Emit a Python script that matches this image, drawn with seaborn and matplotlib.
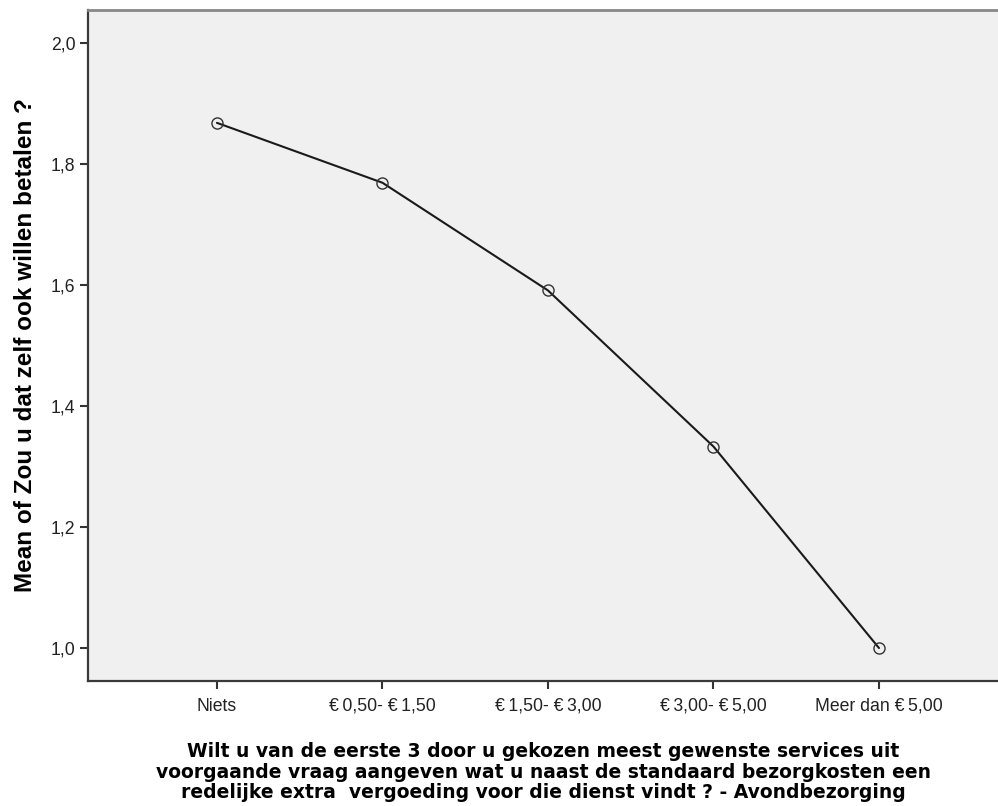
import matplotlib
matplotlib.use("Agg")
import matplotlib.pyplot as plt
import seaborn as sns
import pandas as pd

# Mean willingness to pay per chosen extra fee category
categories = ["Niets", "€\u20090,50- €\u20091,50", "€\u20091,50- €\u20093,00",
              "€\u20093,00- €\u20095,00", "Meer dan €\u20095,00"]
mean_values = [1.868, 1.769, 1.591, 1.333, 1.000]
y_ticks = [1.0, 1.2, 1.4, 1.6, 1.8, 2.0]
y_tick_labels = ["1,0", "1,2", "1,4", "1,6", "1,8", "2,0"]

x_title = ("Wilt u van de eerste 3 door u gekozen meest gewenste services uit\n"
           "voorgaande vraag aangeven wat u naast de standaard bezorgkosten een\n"
           "redelijke extra  vergoeding voor die dienst vindt ? - Avondbezorging")
y_title = "Mean of Zou u dat zelf ook willen betalen ?"

df = pd.DataFrame({"pos": range(len(categories)), "mean": mean_values})

sns.set_style("white")
plt.rcParams["font.family"] = ["Liberation Sans", "DejaVu Sans"]

fig = plt.figure(figsize=(9.98, 8.06), dpi=100)
ax = fig.add_axes([88 / 998, 1 - 681 / 806, 1 - 88 / 998, (681 - 10) / 806])
ax.set_facecolor("#f0f0f0")

sns.lineplot(data=df, x="pos", y="mean", ax=ax, color="#1a1a1a", linewidth=1.5,
             marker="o", markersize=8, markerfacecolor="none",
             markeredgecolor="#333333", markeredgewidth=1.0)

ax.set_xlim(-0.779, 4.719)
ax.set_ylim(0.9455, 2.0545)
ax.set_xticks(range(len(categories)))
ax.set_xticklabels(categories, fontsize=12.7, color="#222222")
ax.set_yticks(y_ticks)
ax.set_yticklabels(y_tick_labels, fontsize=12.7, color="#222222")
ax.tick_params(axis="both", direction="out", length=6, width=1.5, color="#333333",
               pad=3, bottom=True, left=True)
ax.tick_params(axis="x", pad=6)

for side in ["left", "bottom"]:
    ax.spines[side].set_color("#3a3a3a")
    ax.spines[side].set_linewidth(1.6)
ax.spines["top"].set_color("#888888")
ax.spines["top"].set_linewidth(2.0)
ax.spines["right"].set_visible(False)

ax.set_xlabel(x_title, fontsize=13.5, fontweight="bold", family="DejaVu Sans",
              linespacing=1.10, labelpad=20, color="black")
ax.set_ylabel(y_title, fontsize=17.5, fontweight="bold", color="black", labelpad=10)

fig.savefig("out.png", dpi=100)
